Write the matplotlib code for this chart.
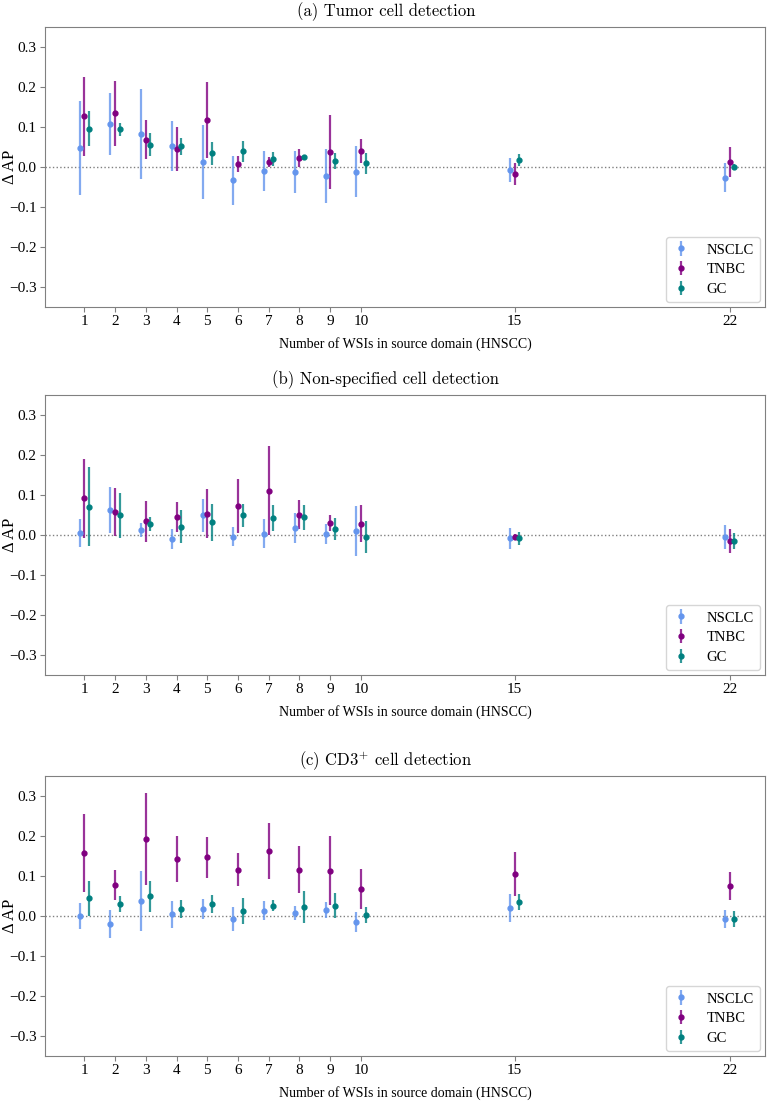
import numpy as np
import matplotlib
matplotlib.use("Agg")
import matplotlib.pyplot as plt
from matplotlib.colors import to_rgba

plt.rcParams['font.family'] = ['Liberation Serif', 'DejaVu Serif']
plt.rcParams['mathtext.fontset'] = 'cm'

n_wsi = [1, 2, 3, 4, 5, 6, 7, 8, 9, 10, 15, 22]
datasets = ["NSCLC", "TNBC", "GC"]
colors = ["cornflowerblue", "purple", "teal"]
titles = ["(a) Tumor cell detection",
          "(b) Non-specified cell detection",
          r"(c) CD3$^{+}$ cell detection"]

# (a) tumor cell detection: delta AP and error half-width
tumor_mean = {
    "NSCLC": [0.047, 0.107, 0.083, 0.053, 0.012, -0.033, -0.010, -0.013, -0.023, -0.012, -0.008, -0.027],
    "TNBC": [0.127, 0.134, 0.068, 0.045, 0.117, 0.007, 0.013, 0.022, 0.037, 0.040, -0.018, 0.013],
    "GC": [0.096, 0.094, 0.056, 0.052, 0.034, 0.039, 0.020, 0.024, 0.015, 0.009, 0.017, 0.000],
}
tumor_err = {
    "NSCLC": [0.117, 0.077, 0.112, 0.063, 0.093, 0.061, 0.051, 0.053, 0.068, 0.064, 0.030, 0.036],
    "TNBC": [0.099, 0.081, 0.049, 0.056, 0.095, 0.020, 0.012, 0.022, 0.092, 0.029, 0.028, 0.038],
    "GC": [0.043, 0.017, 0.029, 0.021, 0.028, 0.026, 0.017, 0.007, 0.021, 0.026, 0.015, 0.008],
}

# (b) non-specified cell detection
nonspec_mean = {
    "NSCLC": [0.006, 0.062, 0.013, -0.011, 0.049, -0.004, 0.003, 0.018, 0.003, 0.010, -0.008, -0.006],
    "TNBC": [0.092, 0.057, 0.034, 0.045, 0.053, 0.073, 0.111, 0.051, 0.030, 0.028, -0.005, -0.014],
    "GC": [0.071, 0.049, 0.028, 0.021, 0.032, 0.049, 0.043, 0.044, 0.015, -0.006, -0.008, -0.015],
}
nonspec_err = {
    "NSCLC": [0.035, 0.057, 0.018, 0.025, 0.041, 0.024, 0.036, 0.038, 0.025, 0.062, 0.026, 0.030],
    "TNBC": [0.099, 0.060, 0.052, 0.037, 0.061, 0.068, 0.111, 0.037, 0.020, 0.046, 0.008, 0.030],
    "GC": [0.098, 0.056, 0.018, 0.041, 0.046, 0.028, 0.033, 0.031, 0.028, 0.040, 0.016, 0.020],
}

# (c) CD3+ cell detection
cd3_mean = {
    "NSCLC": [0.000, -0.020, 0.038, 0.004, 0.018, -0.008, 0.013, 0.008, 0.015, -0.016, 0.020, -0.008],
    "TNBC": [0.157, 0.078, 0.193, 0.142, 0.147, 0.116, 0.163, 0.116, 0.113, 0.068, 0.105, 0.076],
    "GC": [0.044, 0.030, 0.049, 0.018, 0.030, 0.012, 0.026, 0.022, 0.026, 0.002, 0.035, -0.008],
}
cd3_err = {
    "NSCLC": [0.032, 0.035, 0.075, 0.033, 0.025, 0.030, 0.024, 0.018, 0.019, 0.025, 0.035, 0.023],
    "TNBC": [0.098, 0.038, 0.115, 0.057, 0.051, 0.042, 0.070, 0.058, 0.086, 0.050, 0.054, 0.035],
    "GC": [0.044, 0.021, 0.038, 0.022, 0.022, 0.032, 0.013, 0.040, 0.031, 0.020, 0.019, 0.020],
}

panels = [(tumor_mean, tumor_err), (nonspec_mean, nonspec_err), (cd3_mean, cd3_err)]
offsets = [-0.15, 0.0, 0.15]
tops_px = [27, 395, 776]
H = 1105.0
ax_h = 280 / H

fig = plt.figure(figsize=(7.72, 11.05), dpi=100)
x = np.array(n_wsi, dtype=float)

for (means, errs), title, top in zip(panels, titles, tops_px):
    ax = fig.add_axes([45 / 772, 1 - top / H - ax_h, 720 / 772, ax_h])
    ax.axhline(0, color='gray', linestyle=':', linewidth=1)
    for name, col, off in zip(datasets, colors, offsets):
        ax.errorbar(x + off, means[name], yerr=errs[name], fmt='o', color=col,
                    markersize=3.5, elinewidth=1.6, ecolor=to_rgba(col, 0.8),
                    label=name)
    ax.set_xlim(-0.28, 23.15)
    ax.set_ylim(-0.35, 0.35)
    ax.set_xticks(n_wsi)
    ax.set_yticks([-0.3, -0.2, -0.1, 0.0, 0.1, 0.2, 0.3])
    ax.tick_params(labelsize=11, color='gray', pad=2.5)
    for s in ax.spines.values():
        s.set_color('gray')
    fig.text(0.5, 1 - (top - 15) / H, title, fontfamily='cmr10', fontsize=12,
             ha='center', va='center')
    ax.set_xlabel("Number of WSIs in source domain (HNSCC)", fontsize=10, labelpad=6)
    ax.set_ylabel("Δ AP", fontsize=12)
    ax.yaxis.set_label_coords(-0.037, 0.5)
    ax.legend(loc='lower right', fontsize=10.5, handlelength=1.2, labelspacing=0.45,
              borderaxespad=0.35, handletextpad=1.2)

fig.savefig("out.png", dpi=100)
